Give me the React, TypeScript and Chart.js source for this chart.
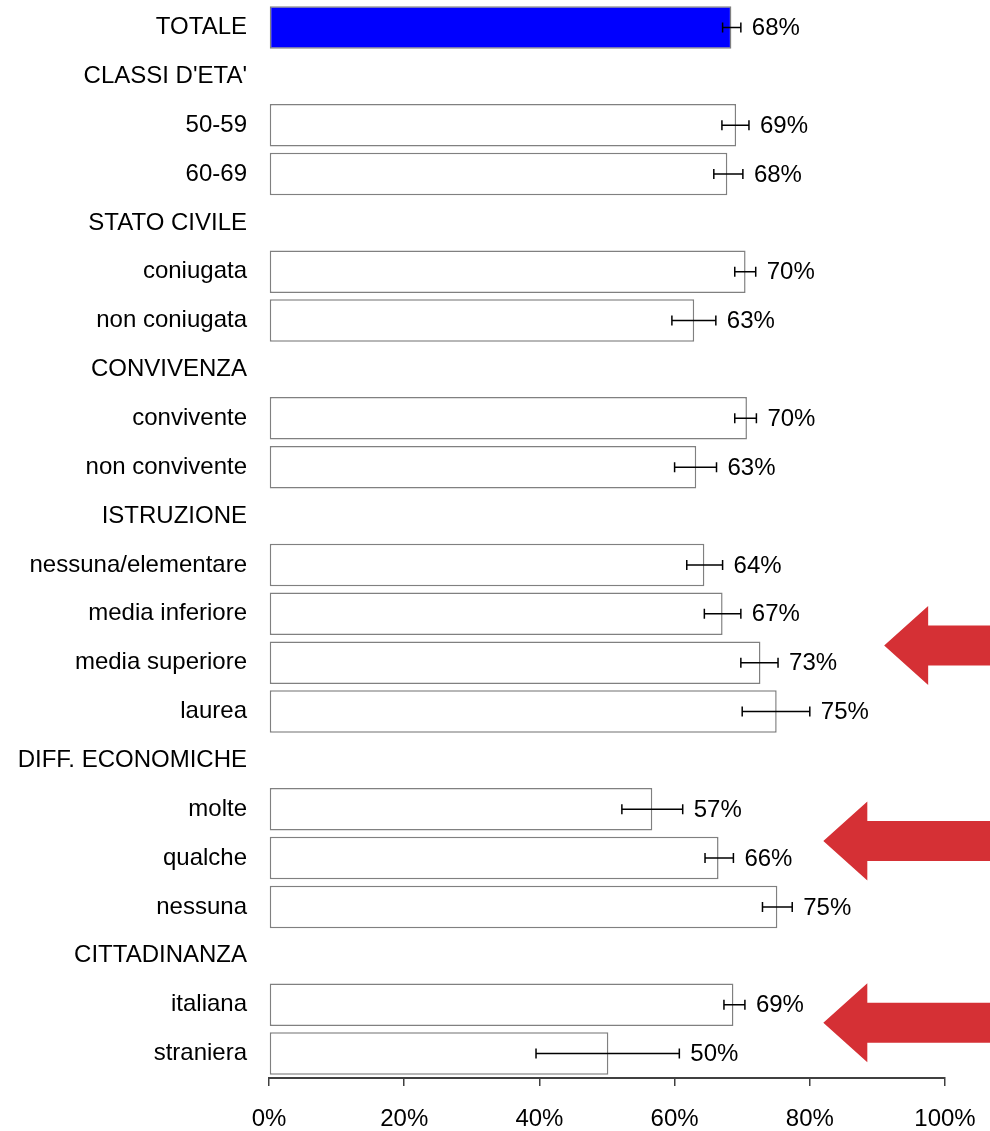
import React, { useEffect, useRef } from "react";
import { Chart, registerables } from "chart.js";

Chart.register(...registerables);

const categories = [
  "TOTALE", "CLASSI D'ETA'", "50-59", "60-69", "STATO CIVILE", "coniugata", "non coniugata",
  "CONVIVENZA", "convivente", "non convivente", "ISTRUZIONE", "nessuna/elementare",
  "media inferiore", "media superiore", "laurea", "DIFF. ECONOMICHE", "molte", "qualche",
  "nessuna", "CITTADINANZA", "italiana", "straniera",
];

const values = [68.4, null, 69.1, 67.8, null, 70.5, 62.9, null, 70.7, 63.2, null, 64.4, 67.1, 72.7, 75.1, null, 56.7, 66.5, 75.2, null, 68.7, 50.2];
const ciLow = [67.1, null, 67.0, 65.8, null, 68.9, 59.6, null, 68.9, 60.0, null, 61.8, 64.4, 69.8, 70.0, null, 52.2, 64.5, 73.0, null, 67.3, 39.5];
const ciHigh = [69.8, null, 71.0, 70.1, null, 72.0, 66.1, null, 72.1, 66.2, null, 67.1, 69.8, 75.3, 80.0, null, 61.2, 68.7, 77.4, null, 70.4, 60.7];
const valueLabels = ["68%", null, "69%", "68%", null, "70%", "63%", null, "70%", "63%", null, "64%", "67%", "73%", "75%", null, "57%", "66%", "75%", null, "69%", "50%"];
const xTicks = [0, 20, 40, 60, 80, 100];

// arrows: tip x in axis %, row position in category index units
const arrowTip = [91, 82, 82];
const arrowRow = [12.65, 16.65, 20.37];

const FONT = "'Liberation Sans', Arial, sans-serif";

const errorBarPlugin = {
  id: "errorBars",
  afterDatasetsDraw(chart: any) {
    const { ctx, scales } = chart;
    const xs = scales.x;
    const ys = scales.y;
    ctx.save();
    ctx.strokeStyle = "#000";
    ctx.lineWidth = 1.5;
    ctx.fillStyle = "#000";
    ctx.font = `24px ${FONT}`;
    ctx.textAlign = "left";
    ctx.textBaseline = "middle";
    for (let i = 0; i < categories.length; i++) {
      if (ciLow[i] == null || ciHigh[i] == null) continue;
      const y = ys.getPixelForValue(i);
      const x1 = xs.getPixelForValue(ciLow[i]);
      const x2 = xs.getPixelForValue(ciHigh[i]);
      const c = 5;
      ctx.beginPath();
      ctx.moveTo(x1, y);
      ctx.lineTo(x2, y);
      ctx.moveTo(x1, y - c);
      ctx.lineTo(x1, y + c);
      ctx.moveTo(x2, y - c);
      ctx.lineTo(x2, y + c);
      ctx.stroke();
      if (valueLabels[i]) ctx.fillText(valueLabels[i] as string, x2 + 11, y + 1);
    }
    ctx.restore();
  },
};

const arrowPlugin = {
  id: "arrows",
  afterDraw(chart: any) {
    const { ctx, scales, width } = chart;
    const xs = scales.x;
    const ys = scales.y;
    ctx.save();
    ctx.fillStyle = "#D53035";
    for (let k = 0; k < arrowTip.length; k++) {
      const tx = xs.getPixelForValue(arrowTip[k]);
      const y0 = ys.getPixelForValue(Math.floor(arrowRow[k]));
      const y1 = ys.getPixelForValue(Math.floor(arrowRow[k]) + 1);
      const ty = y0 + (y1 - y0) * (arrowRow[k] - Math.floor(arrowRow[k]));
      const headLen = 44;
      const headHalf = 39.5;
      const shaftHalf = 20;
      ctx.beginPath();
      ctx.moveTo(tx, ty);
      ctx.lineTo(tx + headLen, ty - headHalf);
      ctx.lineTo(tx + headLen, ty - shaftHalf);
      ctx.lineTo(width, ty - shaftHalf);
      ctx.lineTo(width, ty + shaftHalf);
      ctx.lineTo(tx + headLen, ty + shaftHalf);
      ctx.lineTo(tx + headLen, ty + headHalf);
      ctx.closePath();
      ctx.fill();
    }
    ctx.restore();
  },
};

export default function App() {
  const ref = useRef<HTMLCanvasElement | null>(null);
  useEffect(() => {
    if (!ref.current) return;
    const chart = new Chart(ref.current, {
      type: "bar",
      data: {
        labels: categories,
        datasets: [
          {
            data: values as any,
            backgroundColor: categories.map((_, i) => (i === 0 ? "#0000FF" : "#FFFFFF")),
            borderColor: "#808080",
            borderWidth: 1.5,
            borderSkipped: false,
            barPercentage: 0.87,
            categoryPercentage: 1,
          },
        ],
      },
      options: {
        indexAxis: "y",
        responsive: false,
        animation: false,
        layout: { padding: { top: 3, right: 45, left: 0, bottom: 0 } },
        plugins: { legend: { display: false }, tooltip: { enabled: false } },
        scales: {
          x: {
            min: 0,
            max: 100,
            afterBuildTicks(scale: any) {
              scale.ticks = xTicks.map((v) => ({ value: v }));
            },
            afterFit(scale: any) {
              scale.height = 53;
              scale.paddingLeft = 0;
              scale.paddingRight = 0;
            },
            ticks: {
              color: "#000",
              font: { size: 24, family: FONT },
              padding: 19,
              maxRotation: 0,
              callback: (v: any) => `${v}%`,
            },
            grid: {
              drawOnChartArea: false,
              drawTicks: true,
              tickLength: 8,
              color: "#404040",
              lineWidth: 1.5,
            },
            border: { display: true, color: "#404040", width: 2 },
          },
          y: {
            afterFit(scale: any) {
              scale.width = 269;
              scale.paddingTop = 0;
              scale.paddingBottom = 0;
            },
            ticks: {
              color: "#000",
              font: { size: 24, family: FONT },
              padding: 22,
              autoSkip: false,
            },
            grid: { display: false, drawTicks: false },
            border: { display: false },
          },
        },
      },
      plugins: [errorBarPlugin, arrowPlugin],
    });
    return () => chart.destroy();
  }, []);
  return (
    <div style={{ position: "absolute", left: 0, top: 0, width: 990, height: 1131, background: "#fff" }}>
      <canvas ref={ref} width={990} height={1131} style={{ width: 990, height: 1131, display: "block" }} />
    </div>
  );
}
